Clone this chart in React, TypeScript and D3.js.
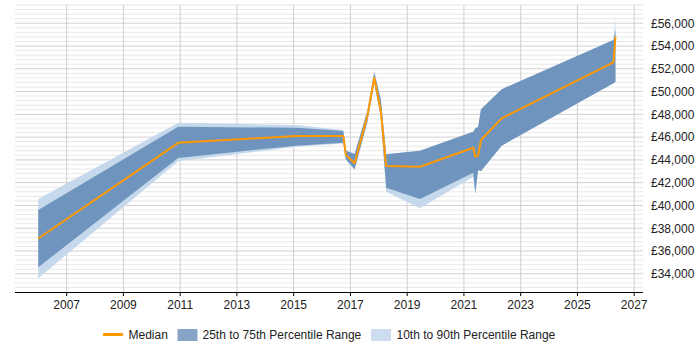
import React from 'react'
import * as d3 from 'd3'

// decimal years of each sample
const years = [2006.0, 2010.93, 2015.1, 2016.75, 2016.84, 2017.15, 2017.6, 2017.84, 2018.07, 2018.26, 2019.45, 2021.33, 2021.4, 2021.5, 2021.6, 2022.33, 2026.27, 2026.34]
const median = [37100, 45500, 46100, 46100, 44430, 43700, 47900, 51200, 48300, 43460, 43400, 45070, 44280, 44400, 45750, 47650, 52570, 54820]
const p75 = [39600, 46900, 46830, 46540, 44800, 44520, 48300, 51600, 49300, 44490, 44800, 46480, 46770, 46890, 48440, 50200, 54530, 55400]
const p25 = [34570, 44170, 45250, 45510, 44050, 43180, 47400, 50800, 47800, 41560, 40570, 42880, 41070, 43110, 43030, 45250, 50730, 50870]
const p90 = [40570, 47270, 47060, 46620, 44830, 44560, 48400, 51900, 49400, 44500, 44810, 46500, 46800, 46900, 48450, 50210, 54540, 56430]
const p10 = [33600, 43880, 45160, 45440, 43990, 43110, 47300, 50700, 47700, 41210, 39750, 42520, 40900, 43050, 43000, 45240, 50720, 50800]

const xTicks = [2007, 2009, 2011, 2013, 2015, 2017, 2019, 2021, 2023, 2025, 2027]
const yTicks = [34000, 36000, 38000, 40000, 42000, 44000, 46000, 48000, 50000, 52000, 54000, 56000]

const font = '"Liberation Sans", Arial, sans-serif'

export default function App () {
  const W = 700
  const H = 350
  const left = 15
  const right = 643
  const top = 5
  const bottom = 292

  const x = d3.scaleLinear().domain([2005.18, 2027.31]).range([left, right])
  const y = d3.scaleLinear().domain([32400, 57600]).range([bottom, top])

  const idx = years.map((_, i) => i)

  const outer = d3.area<number>()
    .x(i => x(years[i]))
    .y0(i => y(p10[i]))
    .y1(i => y(p90[i]))
  const inner = d3.area<number>()
    .x(i => x(years[i]))
    .y0(i => y(p25[i]))
    .y1(i => y(p75[i]))
  const line = d3.line<number>()
    .x(i => x(years[i]))
    .y(i => y(median[i]))

  // minor grid every 400
  const minor = d3.range(32800, 57601, 400).filter(v => v % 2000 !== 0)

  const fmt = d3.format(',')

  return (
    <svg width={W} height={H} style={{ position: 'absolute', left: 0, top: 0, background: '#fff' }}
      fontFamily={font} fontSize={12}>
      {minor.map(v => (
        <line key={'m' + v} x1={left} x2={right} y1={y(v)} y2={y(v)} stroke='#e8e8e8' strokeWidth={1} />
      ))}
      {yTicks.map(v => (
        <line key={'g' + v} x1={left} x2={right} y1={y(v)} y2={y(v)} stroke='#d0d0d0' strokeWidth={1} />
      ))}
      {xTicks.map(t => (
        <line key={'v' + t} x1={x(t)} x2={x(t)} y1={top} y2={bottom} stroke='#cfcfcf' strokeWidth={1} />
      ))}

      <path d={outer(idx) || ''} fill='#c6d8eb' />
      <path d={inner(idx) || ''} fill='#6f95be' />
      <path d={line(idx) || ''} fill='none' stroke='#ff9900' strokeWidth={2} strokeLinejoin='round' />

      {/* x axis */}
      <line x1={left} x2={right} y1={bottom + 0.5} y2={bottom + 0.5} stroke='#000' strokeWidth={1} />
      {xTicks.map(t => (
        <g key={'xt' + t}>
          <line x1={x(t)} x2={x(t)} y1={bottom} y2={bottom + 4} stroke='#000' strokeWidth={1} />
          <text x={x(t)} y={308.5} textAnchor='middle' fill='#222'>{t}</text>
        </g>
      ))}

      {/* y labels */}
      {yTicks.map(v => (
        <text key={'yt' + v} x={651} y={y(v) + 4.3} fill='#222'>£{fmt(v)}</text>
      ))}

      {/* legend */}
      <line x1={103} x2={123} y1={334.5} y2={334.5} stroke='#ff9900' strokeWidth={3} />
      <text x={128.5} y={338.5} fill='#222'>Median</text>
      <rect x={177.5} y={329} width={20} height={12} fill='#87a4c6' />
      <text x={202.5} y={338.5} fill='#222'>25th to 75th Percentile Range</text>
      <rect x={371} y={329} width={20} height={12} fill='#cddcee' />
      <text x={396.5} y={338.5} fill='#222'>10th to 90th Percentile Range</text>
    </svg>
  )
}
